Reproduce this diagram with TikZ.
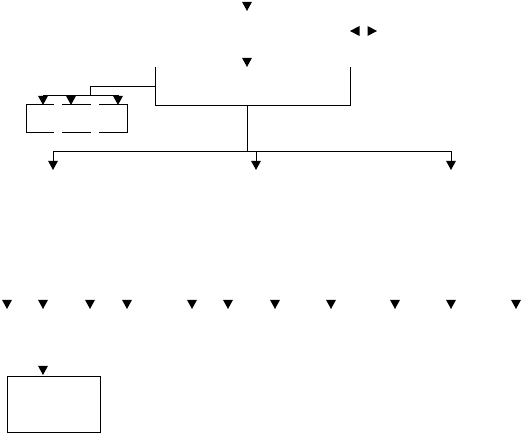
\documentclass[tikz,border=0pt]{standalone}
\begin{document}
\begin{tikzpicture}[x=1pt,y=-1pt,line width=1pt,
  conn/.style={draw=black,line cap=rect},
  tipdown/.pic={\fill (-5,-9.2) -- (5,-9.2) -- (0,0) -- cycle;},
  tipleft/.pic={\fill (0,0) -- (9.5,-5) -- (9.5,5) -- cycle;},
  tipright/.pic={\fill (0,0) -- (-9.5,-5) -- (-9.5,5) -- cycle;}]
\useasboundingbox (0,0) rectangle (528,433);
% coordinates
\coordinate (tl) at (155,68); \coordinate (bl) at (155,106);
\coordinate (tr) at (350,68); \coordinate (br) at (350,106);
\coordinate (mid) at (247,106); \coordinate (midb) at (247,152);
\coordinate (hl) at (53,152); \coordinate (hr) at (451,152);
\coordinate (hm) at (256,152);
\coordinate (s1) at (155,87); \coordinate (s2) at (90,87); \coordinate (s3) at (90,96);
\coordinate (b1) at (43,96); \coordinate (b2) at (118,96);
% main bracket
\draw[conn] (tl) -- (bl) -- (br) -- (tr);
\draw[conn] (mid) -- (midb);
\draw[conn] (hl) -- (hr);
\draw[conn] (hl) -- ++(0,9);
\draw[conn] (hm) -- ++(0,9);
\draw[conn] (hr) -- ++(0,9);
\draw[conn] (s1) -- (s2) -- (s3);
\draw[conn] (b1) -- (b2);
% dashed box
\draw[conn] (26,105) -- (26,133);
\draw[conn] (127,105) -- (127,133);
\foreach \y in {105,133}{
  \draw (26,\y) -- (54,\y);
  \draw (62,\y) -- (91,\y);
  \draw (99,\y) -- (128,\y);
}
% bottom box
\node[draw,line width=1pt,minimum width=93pt,minimum height=56pt,inner sep=0pt] (box) at (53.5,404) {};
% arrowheads
\pic at (247,11) {tipdown};
\pic at (247,67) {tipdown};
\pic at (350,31) {tipleft};
\pic at (377,31) {tipright};
\pic at (53,170) {tipdown};
\pic at (256,170) {tipdown};
\pic at (451,170) {tipdown};
\pic at (43,105) {tipdown};
\pic at (71,105) {tipdown};
\pic at (118,105) {tipdown};
\foreach \x in {7,43,90,127,192,228,275,331,395,451,516}
  \pic at (\x,309) {tipdown};
\pic at (43,375) {tipdown};
\end{tikzpicture}
\end{document}
